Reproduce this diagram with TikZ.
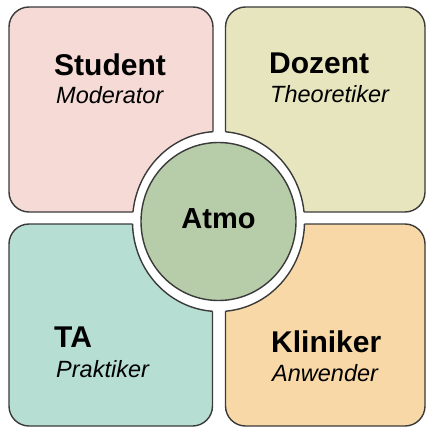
\documentclass[tikz,border=0pt]{standalone}
\usepackage{fontspec}
\setmainfont{Liberation Sans}
\definecolor{edgec}{HTML}{3A3A3A}
\definecolor{pinkq}{HTML}{F5DAD6}
\definecolor{oliveq}{HTML}{E7E5BE}
\definecolor{tealq}{HTML}{B7DED3}
\definecolor{orangeq}{HTML}{F8D8A6}
\definecolor{greenc}{HTML}{B7CCA9}
\begin{document}
\begin{tikzpicture}[x=1pt,y=-1pt,
  quad/.style={draw=edgec,line width=1.4pt,rounded corners=20pt},
  ringline/.style={draw=edgec,line width=1.4pt},
  titletext/.style={anchor=base west,inner sep=0pt,font=\bfseries\fontsize{30}{32}\selectfont},
  roletext/.style={anchor=base west,inner sep=0pt,font=\itshape\fontsize{23.5}{25}\selectfont}]
\useasboundingbox (0,0) rectangle (427,428);
\coordinate (c) at (218.5,221.5);
% quadrants
\path[quad,fill=pinkq]   (9,7)     rectangle (213,212);
\path[quad,fill=oliveq]  (225.5,7) rectangle (425,212);
\path[quad,fill=tealq]   (9,224)   rectangle (212.5,426);
\path[quad,fill=orangeq] (225.5,224) rectangle (425,426);
% white ring
\fill[white] (c) ellipse [x radius=86,y radius=90];
\begin{scope}
  \clip[rounded corners=20pt] (9,7) rectangle (213,212);
  \path[ringline] (c) ellipse [x radius=86,y radius=90];
\end{scope}
\begin{scope}
  \clip[rounded corners=20pt] (225.5,7) rectangle (425,212);
  \path[ringline] (c) ellipse [x radius=86,y radius=90];
\end{scope}
\begin{scope}
  \clip[rounded corners=20pt] (9,224) rectangle (212.5,426);
  \path[ringline] (c) ellipse [x radius=86,y radius=90];
\end{scope}
\begin{scope}
  \clip[rounded corners=20pt] (225.5,224) rectangle (425,426);
  \path[ringline] (c) ellipse [x radius=86,y radius=90];
\end{scope}
% centre
\path[ringline,fill=greenc] (c) ellipse [x radius=77.5,y radius=79];
\node[anchor=base,inner sep=0pt,font=\bfseries\fontsize{29}{31}\selectfont] (atmo) at (218.5,228) {Atmo};
% texts
\node[titletext] (student) at (54,75) {Student};
\node[roletext] (moderator) at (56,103) {Moderator};
\node[titletext] (dozent) at (269,74) {Dozent};
\node[roletext] (theo) at (270,102) {Theoretiker};
\node[titletext] (ta) at (54,347) {TA};
\node[roletext] (prakt) at (56,377) {Praktiker};
\node[titletext] (klin) at (271,352) {Kliniker};
\node[roletext] (anw) at (272,381) {Anwender};
\end{tikzpicture}
\end{document}
